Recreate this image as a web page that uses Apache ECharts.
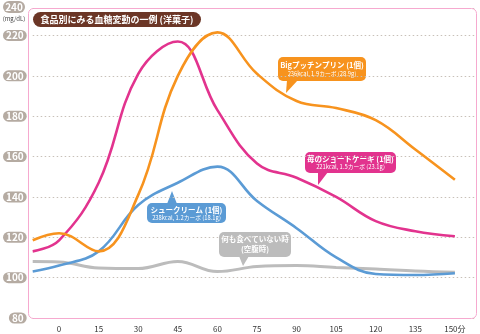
<!DOCTYPE html>
<html><head><meta charset="utf-8">
<script src="https://cdn.jsdelivr.net/npm/echarts@6/dist/echarts.min.js"></script>
<style>html,body{margin:0;padding:0;background:#fff}#c{width:480px;height:334px}</style>
</head><body><div id="c"></div>
<script>
const minutes = [-10, 0, 15, 30, 45, 60, 75, 90, 105, 120, 135, 150];
const xTickLabels = [0, 15, 30, 45, 60, 75, 90, 105, 120, 135, 150];
const yTickLabels = [80, 100, 120, 140, 160, 180, 200, 220];
const pudding = [118.5, 122, 113, 141, 200, 221.5, 201, 187.5, 184, 178, 163.5, 148.5];
const shortcake = [113, 118.5, 147, 201, 217, 183, 156.5, 149.5, 140, 128, 123, 120.5];
const creampuff = [103, 106, 113, 136, 147, 155, 138, 124.5, 110, 101.8, 101.3, 102.2];
const fasting = [108, 107.8, 104.8, 104.5, 108, 103, 105.5, 106, 105, 104.3, 103.3, 102.7];
const title = '食品別にみる血糖変動の一例 (洋菓子)';
const FONT = '"Noto Sans CJK JP", "Noto Sans", sans-serif';

const pairs = arr => minutes.map((m, i) => [m, arr[i]]);
function mkSeries(name, arr, color, w, z) {
  return { name, type: 'line', data: pairs(arr), smooth: 0.4, symbol: 'none', z,
    lineStyle: { color, width: w }, itemStyle: { color } };
}
function callout(x, y, w, h, color, lines, ptr, sizes) {
  const children = [
    { type: 'rect', shape: { x, y, width: w, height: h, r: 5 }, style: { fill: color } },
    { type: 'polygon', shape: { points: ptr }, style: { fill: color } }
  ];
  lines.forEach((t, i) => {
    children.push({ type: 'text', style: { x: x + w / 2, y: y + sizes[i].dy, text: t, fill: '#fff',
      font: sizes[i].font, align: 'center', verticalAlign: 'middle' } });
  });
  return { type: 'group', z: 100, children };
}

const chart = echarts.init(document.getElementById('c'), null, { renderer: 'canvas' });
chart.setOption({
  animation: false,
  textStyle: { fontFamily: FONT },
  grid: { left: 30, right: 4, top: 8, bottom: 16 },
  xAxis: {
    type: 'value', min: -10, max: 158, interval: 5,
    axisLine: { show: false }, axisTick: { show: false }, splitLine: { show: false },
    axisLabel: { margin: 7, fontSize: 8, color: '#333', showMaxLabel: false,
      formatter: v => xTickLabels.includes(v) ? (v === 150 ? '150分' : String(v)) : '' }
  },
  yAxis: {
    type: 'value', min: 80, max: 233.6, interval: 20,
    axisLine: { show: false }, axisTick: { show: false },
    splitLine: { show: true, lineStyle: { color: '#c8c0b8', type: [1.5, 2.5], width: 1.2 } },
    axisLabel: { margin: 6, fontSize: 10, fontWeight: 'bold', color: '#fff', showMaxLabel: false,
      backgroundColor: '#b5aba2', borderRadius: 6, padding: [1, 3, 0, 3],
      formatter: v => yTickLabels.includes(v) ? String(v) : '' }
  },
  series: [
    mkSeries('何も食べていない時', fasting, '#bcbcbc', 3, 2),
    mkSeries('シュークリーム', creampuff, '#5b9bd5', 2.6, 3),
    mkSeries('苺のショートケーキ', shortcake, '#e2338e', 2.6, 4),
    mkSeries('Bigプッチンプリン', pudding, '#f7931e', 2.6, 5)
  ],
  graphic: [
    { type: 'rect', z: 50, shape: { x: 28.5, y: 8.5, width: 448, height: 310, r: 5 },
      style: { fill: 'none', stroke: '#f6a9cf', lineWidth: 1 } },
    { type: 'rect', z: 100, shape: { x: 3, y: 1, width: 22, height: 12, r: 6 }, style: { fill: '#b5aba2' } },
    { type: 'text', z: 101, style: { x: 14, y: 7.5, text: '240', fill: '#fff', font: 'bold 10px ' + FONT, align: 'center', verticalAlign: 'middle' } },
    { type: 'text', z: 101, style: { x: 14, y: 19, text: '(mg/dL)', fill: '#444', font: '6px ' + FONT, align: 'center', verticalAlign: 'middle' } },
    { type: 'rect', z: 100, shape: { x: 33, y: 12, width: 168, height: 15, r: 7.5 }, style: { fill: '#6b3626' } },
    { type: 'text', z: 101, style: { x: 117, y: 19.5, text: title, fill: '#fff', font: 'bold 9px ' + FONT, align: 'center', verticalAlign: 'middle' } },
    callout(278, 57, 88, 24, '#f7931e', ['Bigプッチンプリン (1個)', '236kcal, 1.9カーボ (28.9g)'],
      [[287, 80], [298, 80], [286, 93]], [{ dy: 8, font: 'bold 7.5px ' + FONT }, { dy: 17, font: '5.8px ' + FONT }]),
    callout(305, 152, 91, 21, '#e2338e', ['苺のショートケーキ (1個)', '221kcal, 1.5カーボ (23.1g)'],
      [[318, 172], [328, 172], [318, 185]], [{ dy: 7, font: 'bold 7.5px ' + FONT }, { dy: 15, font: '5.8px ' + FONT }]),
    callout(147, 203, 79, 20, '#5b9bd5', ['シュークリーム (1個)', '238kcal, 1.2カーボ (18.1g)'],
      [[167, 204], [177, 204], [172, 191]], [{ dy: 7, font: 'bold 7.5px ' + FONT }, { dy: 14.5, font: '5.8px ' + FONT }]),
    callout(219, 232, 72, 25, '#bcbcbc', ['何も食べていない時', '(空腹時)'],
      [[239, 256], [249, 256], [243, 266]], [{ dy: 7.5, font: 'bold 7.5px ' + FONT }, { dy: 17.5, font: 'bold 7.5px ' + FONT }])
  ]
});
</script></body></html>
